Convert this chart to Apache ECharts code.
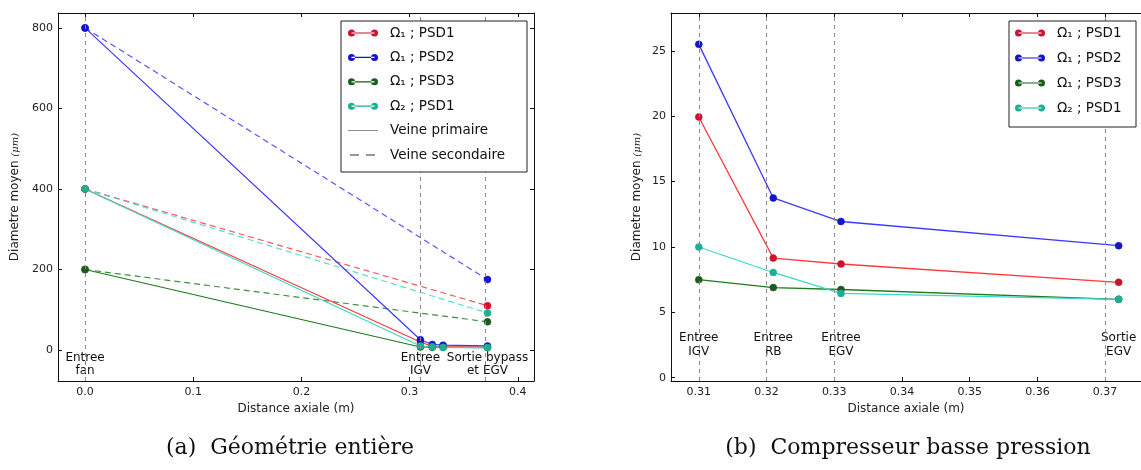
<!DOCTYPE html>
<html>
<head>
<meta charset="utf-8">
<script src="https://cdn.jsdelivr.net/npm/echarts@6/dist/echarts.min.js"></script>
<style>html,body{margin:0;padding:0;background:#fff}#c{width:1141px;height:470px}</style>
</head>
<body>
<div id="c"></div>
<script>
// ---- data ----
const stationX = [0.0, 0.31, 0.321, 0.331, 0.372];           // fan, IGV, RB, EGV, sortie
const stationLabelsLeft = ['Entree\nfan', 'Entree\nIGV', 'Sortie bypass\net EGV'];
const stationLabelsRight = ['Entree\nIGV', 'Entree\nRB', 'Entree\nEGV', 'Sortie\nEGV'];
const seriesNames = ['Ω₁ ; PSD1', 'Ω₁ ; PSD2', 'Ω₁ ; PSD3', 'Ω₂ ; PSD1'];
// primary flow (veine primaire) at stationX
const o1psd1Primary = [400, 19.95, 9.15, 8.7, 7.3];
const o1psd2Primary = [800, 25.5, 13.75, 11.95, 10.1];
const o1psd3Primary = [200, 7.5, 6.9, 6.75, 6.0];
const o2psd1Primary = [400, 10.0, 8.05, 6.45, 6.0];
// secondary flow (veine secondaire): fan entry -> bypass exit
const secondaryX = [0.0, 0.372];
const o1psd1Secondary = [400, 110];
const o1psd2Secondary = [800, 175];
const o1psd3Secondary = [200, 70];
const o2psd1Secondary = [400, 92];
const leftXTicks = [0, 0.1, 0.2, 0.3, 0.4];
const leftYTicks = [0, 200, 400, 600, 800];
const rightXTicks = [0.31, 0.32, 0.33, 0.34, 0.35, 0.36, 0.37];
const rightYTicks = [0, 5, 10, 15, 20, 25];

// ---- styles ----
const lineColors = ['#ff3a3a', '#3a3aff', '#207a20', '#3ad8c8'];
const markColors = ['#d0102c', '#1414c8', '#1a5c1a', '#1fae94'];
const primary = [o1psd1Primary, o1psd2Primary, o1psd3Primary, o2psd1Primary];
const secondary = [o1psd1Secondary, o1psd2Secondary, o1psd3Secondary, o2psd1Secondary];
const FONT = 'DejaVu Sans';

const markerIcon = 'path://M0,0L0,0ZM37,14L37,14ZM0,7A3.5,3.5,0,1,0,7,7A3.5,3.5,0,1,0,0,7ZM23,7A3.5,3.5,0,1,0,30,7A3.5,3.5,0,1,0,23,7ZM3.5,6.4H26.5V7.6H3.5Z';
const solidIcon = 'path://M0,0L0,0ZM37,14L37,14ZM0,6.5H30V7.5H0Z';
const dashIcon = 'path://M0,0L0,0ZM37,14L37,14ZM2,6.4H11V7.6H2ZM18,6.4H27V7.6H18Z';

function zip(xs, ys) { return xs.map((x, i) => [x, ys[i]]); }

function mkAxis(kind, grid, pos, min, max, ticks, showLabel, fmt, extra) {
  const a = {
    type: 'value', gridIndex: grid, position: pos, min: min, max: max,
    axisLine: { show: true, onZero: false, lineStyle: { color: '#111', width: 1 } },
    axisTick: { show: true, inside: true, length: 4, customValues: ticks, lineStyle: { color: '#111' } },
    axisLabel: { show: showLabel, customValues: ticks, formatter: fmt, fontSize: 11, fontFamily: FONT, color: '#222', margin: kind === 'x' ? 6 : 5 },
    splitLine: { show: false }
  };
  return Object.assign(a, extra || {});
}

const yName = 'Diametre moyen {i|(μm)}';
const yNameStyle = { fontSize: 12, fontFamily: FONT, color: '#222', rich: { i: { fontStyle: 'italic', fontFamily: 'DejaVu Serif', fontSize: 10, color: '#222' } } };
const xNameStyle = { fontSize: 12, fontFamily: FONT, color: '#222' };

const xAxes = [
  mkAxis('x', 0, 'bottom', -0.025, 0.415, leftXTicks, true, v => v.toFixed(1), { name: 'Distance axiale (m)', nameLocation: 'middle', nameGap: 20, nameTextStyle: xNameStyle }),
  mkAxis('x', 0, 'top', -0.025, 0.415, leftXTicks, false),
  mkAxis('x', 1, 'bottom', 0.3059, 0.3753, rightXTicks, true, v => v.toFixed(2), { name: 'Distance axiale (m)', nameLocation: 'middle', nameGap: 20, nameTextStyle: xNameStyle }),
  mkAxis('x', 1, 'top', 0.3059, 0.3753, rightXTicks, false)
];
const yAxes = [
  mkAxis('y', 0, 'left', -77, 837, leftYTicks, true, v => String(v), { name: yName, nameLocation: 'middle', nameGap: 37, nameTextStyle: yNameStyle }),
  mkAxis('y', 0, 'right', -77, 837, leftYTicks, false),
  mkAxis('y', 1, 'left', -0.25, 27.9, rightYTicks, true, v => String(v), { name: yName, nameLocation: 'middle', nameGap: 28, nameTextStyle: yNameStyle }),
  mkAxis('y', 1, 'right', -0.25, 27.9, rightYTicks, false)
];
yAxes[3].axisTick.show = false;

const series = [];
const vline = { color: '#8a8a8a', type: [4, 4], width: 1 };
const annLabel = { show: true, position: 'inside', formatter: '{b}', fontSize: 12, fontFamily: FONT, color: '#111', align: 'center', textBorderWidth: 0, opacity: 1 };

// annotation + vertical lines, left
series.push({
  type: 'scatter', name: 'annL', xAxisIndex: 0, yAxisIndex: 0, z: 1, silent: true,
  symbol: 'circle', symbolSize: 0, itemStyle: { color: '#fff' },
  data: [0, 1, 4].map((si, k) => ({ value: [stationX[si], -35], name: stationLabelsLeft[k] })),
  label: Object.assign({ lineHeight: 13 }, annLabel),
  markLine: { silent: true, symbol: ['none', 'none'], label: { show: false }, lineStyle: vline,
    data: [0, 1, 4].map(si => ({ xAxis: stationX[si] })) }
});
series.push({
  type: 'scatter', name: 'annR', xAxisIndex: 2, yAxisIndex: 2, z: 1, silent: true,
  symbol: 'circle', symbolSize: 0, itemStyle: { color: '#fff' },
  data: [1, 2, 3, 4].map((si, k) => ({ value: [stationX[si], 2.5], name: stationLabelsRight[k] })),
  label: Object.assign({ lineHeight: 14 }, annLabel),
  markLine: { silent: true, symbol: ['none', 'none'], label: { show: false }, lineStyle: vline,
    data: [1, 2, 3, 4].map(si => ({ xAxis: stationX[si] })) }
});

// left: secondary (dashed)
for (let i = 0; i < 4; i++) {
  series.push({
    type: 'line', name: seriesNames[i] + ' (sec)', xAxisIndex: 0, yAxisIndex: 0, z: 3,
    data: zip(secondaryX, secondary[i]),
    symbol: 'circle', symbolSize: 7, showSymbol: true,
    lineStyle: { color: lineColors[i], width: 1.2, type: [6, 4], opacity: 0.85 },
    itemStyle: { color: markColors[i], borderColor: markColors[i], borderWidth: 0.5 }
  });
}
// left: primary (solid)
for (let i = 0; i < 4; i++) {
  series.push({
    type: 'line', name: seriesNames[i], xAxisIndex: 0, yAxisIndex: 0, z: 4,
    data: zip(stationX, primary[i]),
    symbol: 'circle', symbolSize: 7, showSymbol: true, color: markColors[i],
    lineStyle: { color: lineColors[i], width: 1.2 },
    itemStyle: { color: markColors[i], borderColor: markColors[i], borderWidth: 0.5 }
  });
}
// right: primary from IGV
for (let i = 0; i < 4; i++) {
  series.push({
    type: 'line', name: seriesNames[i], xAxisIndex: 2, yAxisIndex: 2, z: 4,
    data: zip(stationX.slice(1), primary[i].slice(1)),
    symbol: 'circle', symbolSize: 7, showSymbol: true, color: markColors[i],
    lineStyle: { color: lineColors[i], width: 1.3 },
    itemStyle: { color: markColors[i], borderColor: markColors[i], borderWidth: 0.5 }
  });
}
// legend-only entries
series.push({ type: 'line', name: 'Veine primaire', xAxisIndex: 0, yAxisIndex: 0, data: [], color: '#8c8c8c', symbol: 'none' });
series.push({ type: 'line', name: 'Veine secondaire', xAxisIndex: 0, yAxisIndex: 0, data: [], color: '#333', symbol: 'none' });

const legendText = { fontSize: 13.5, fontFamily: FONT, color: '#111', lineHeight: 14 };
const option = {
  animation: false,
  backgroundColor: '#fff',
  grid: [
    { left: 58, top: 13, width: 476, height: 368 },
    { left: 671, top: 13, width: 475, height: 368 }
  ],
  xAxis: xAxes,
  yAxis: yAxes,
  legend: [
    {
      z: 20, left: 341, top: 21, orient: 'vertical', selectedMode: false,
      itemWidth: 37, itemHeight: 14, itemGap: 10.4, padding: [5, 7, 10, 7],
      borderColor: '#222', borderWidth: 1, backgroundColor: '#fff',
      itemStyle: { borderWidth: 0 },
      textStyle: Object.assign({ width: 130 }, legendText),
      data: seriesNames.map(n => ({ name: n, icon: markerIcon }))
        .concat([{ name: 'Veine primaire', icon: solidIcon }, { name: 'Veine secondaire', icon: dashIcon }])
    },
    {
      z: 20, left: 1009, top: 21, orient: 'vertical', selectedMode: false,
      itemWidth: 37, itemHeight: 14, itemGap: 11, padding: [5, 6, 12, 6],
      borderColor: '#222', borderWidth: 1, backgroundColor: '#fff',
      itemStyle: { borderWidth: 0 },
      textStyle: Object.assign({ width: 73 }, legendText),
      data: seriesNames.map(n => ({ name: n, icon: markerIcon }))
    }
  ],
  graphic: [
    { type: 'text', x: 290, y: 448, style: { text: '(a)  Géométrie entière', fontSize: 22, fontFamily: 'DejaVu Serif', fill: '#111', align: 'center', verticalAlign: 'middle' } },
    { type: 'text', x: 908, y: 448, style: { text: '(b)  Compresseur basse pression', fontSize: 22, fontFamily: 'DejaVu Serif', fill: '#111', align: 'center', verticalAlign: 'middle' } }
  ],
  series: series
};
const chart = echarts.init(document.getElementById('c'), null, { renderer: 'canvas' });
chart.setOption(option);
</script>
</body>
</html>
